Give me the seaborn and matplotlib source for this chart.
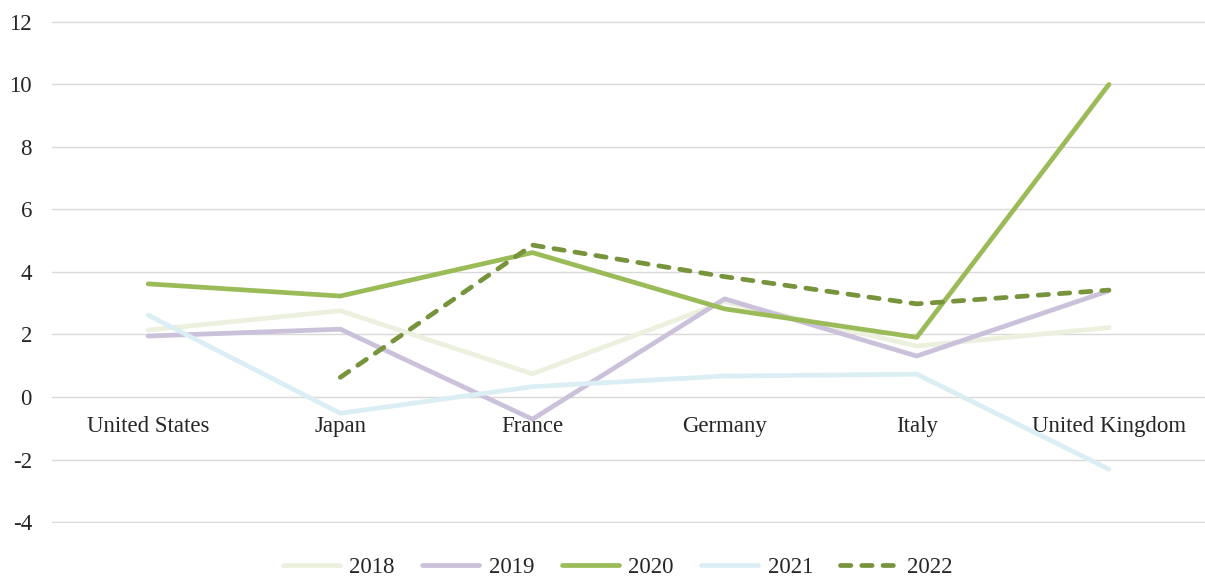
import matplotlib
matplotlib.use('Agg')
import matplotlib.pyplot as plt
import seaborn as sns
import numpy as np
import pandas as pd

# Данные
countries = ['United States', 'Japan', 'France', 'Germany', 'Italy', 'United Kingdom']
years = ['2018', '2019', '2020', '2021', '2022']
v2018 = [2.14, 2.76, 0.74, 3.05, 1.63, 2.22]
v2019 = [1.95, 2.17, -0.71, 3.14, 1.31, 3.40]
v2020 = [3.62, 3.23, 4.62, 2.82, 1.91, 10.0]
v2021 = [2.62, -0.52, 0.33, 0.67, 0.73, -2.31]
v2022 = [np.nan, 0.63, 4.86, 3.85, 2.98, 3.42]
y_ticks = [-4, -2, 0, 2, 4, 6, 8, 10, 12]

series = {'2018': v2018, '2019': v2019, '2020': v2020, '2021': v2021, '2022': v2022}
colors = {'2018': '#ebf1de', '2019': '#ccc1da', '2020': '#9bbb59',
          '2021': '#dbeef4', '2022': '#77933c'}

rows = []
for y in years:
    for i, c in enumerate(countries):
        rows.append({'x': i, 'country': c, 'year': y, 'value': series[y][i]})
df = pd.DataFrame(rows).dropna()

sns.set_style('white')
plt.rcParams['font.family'] = ['Liberation Serif', 'DejaVu Serif']

fig = plt.figure(figsize=(12.05, 5.78), dpi=100)
# немного расширяем пределы, чтобы крайние линии сетки не обрезались
ax = fig.add_axes([0.0432, 0.0952, 0.9568, 0.8685])

for y in years:
    d = df[df['year'] == y]
    sns.lineplot(data=d, x='x', y='value', ax=ax, color=colors[y], linewidth=3.4,
                 linestyle='--' if y == '2022' else '-', label=y,
                 solid_capstyle='round', dash_capstyle='round')

ax.set_xlim(-0.5, 5.5)
ax.set_ylim(-4.03, 12.03)
ax.set_yticks(y_ticks)
ax.set_yticklabels([str(t) for t in y_ticks])
ax.set_xticks(range(len(countries)))
ax.set_xticklabels(countries)
ax.grid(axis='y', color='#d9d9d9', linewidth=1)
ax.set_axisbelow(True)
for s in ['top', 'right', 'left']:
    ax.spines[s].set_visible(False)
ax.spines['bottom'].set_position(('data', 0))
ax.spines['bottom'].set_visible(False)
ax.tick_params(axis='both', length=0, labelsize=16.5, colors='#262626')
ax.tick_params(axis='y', pad=14.5)
ax.tick_params(axis='x', pad=14)
ax.set_xlabel('')
ax.set_ylabel('')

leg = ax.legend(loc='center', bbox_to_anchor=(0.5125, 0.019), bbox_transform=fig.transFigure,
                ncol=5, frameon=False, fontsize=16.5, handlelength=2.5,
                handletextpad=0.4, columnspacing=1.2)
for h in leg.get_lines():
    h.set_linewidth(3.4)

# штрихи пунктира как в Excel
for line in list(ax.lines) + list(leg.get_lines()):
    if line.get_linestyle() == '--':
        line.set_dashes([2.2, 2.3])

plt.savefig('out.png', dpi=100)
